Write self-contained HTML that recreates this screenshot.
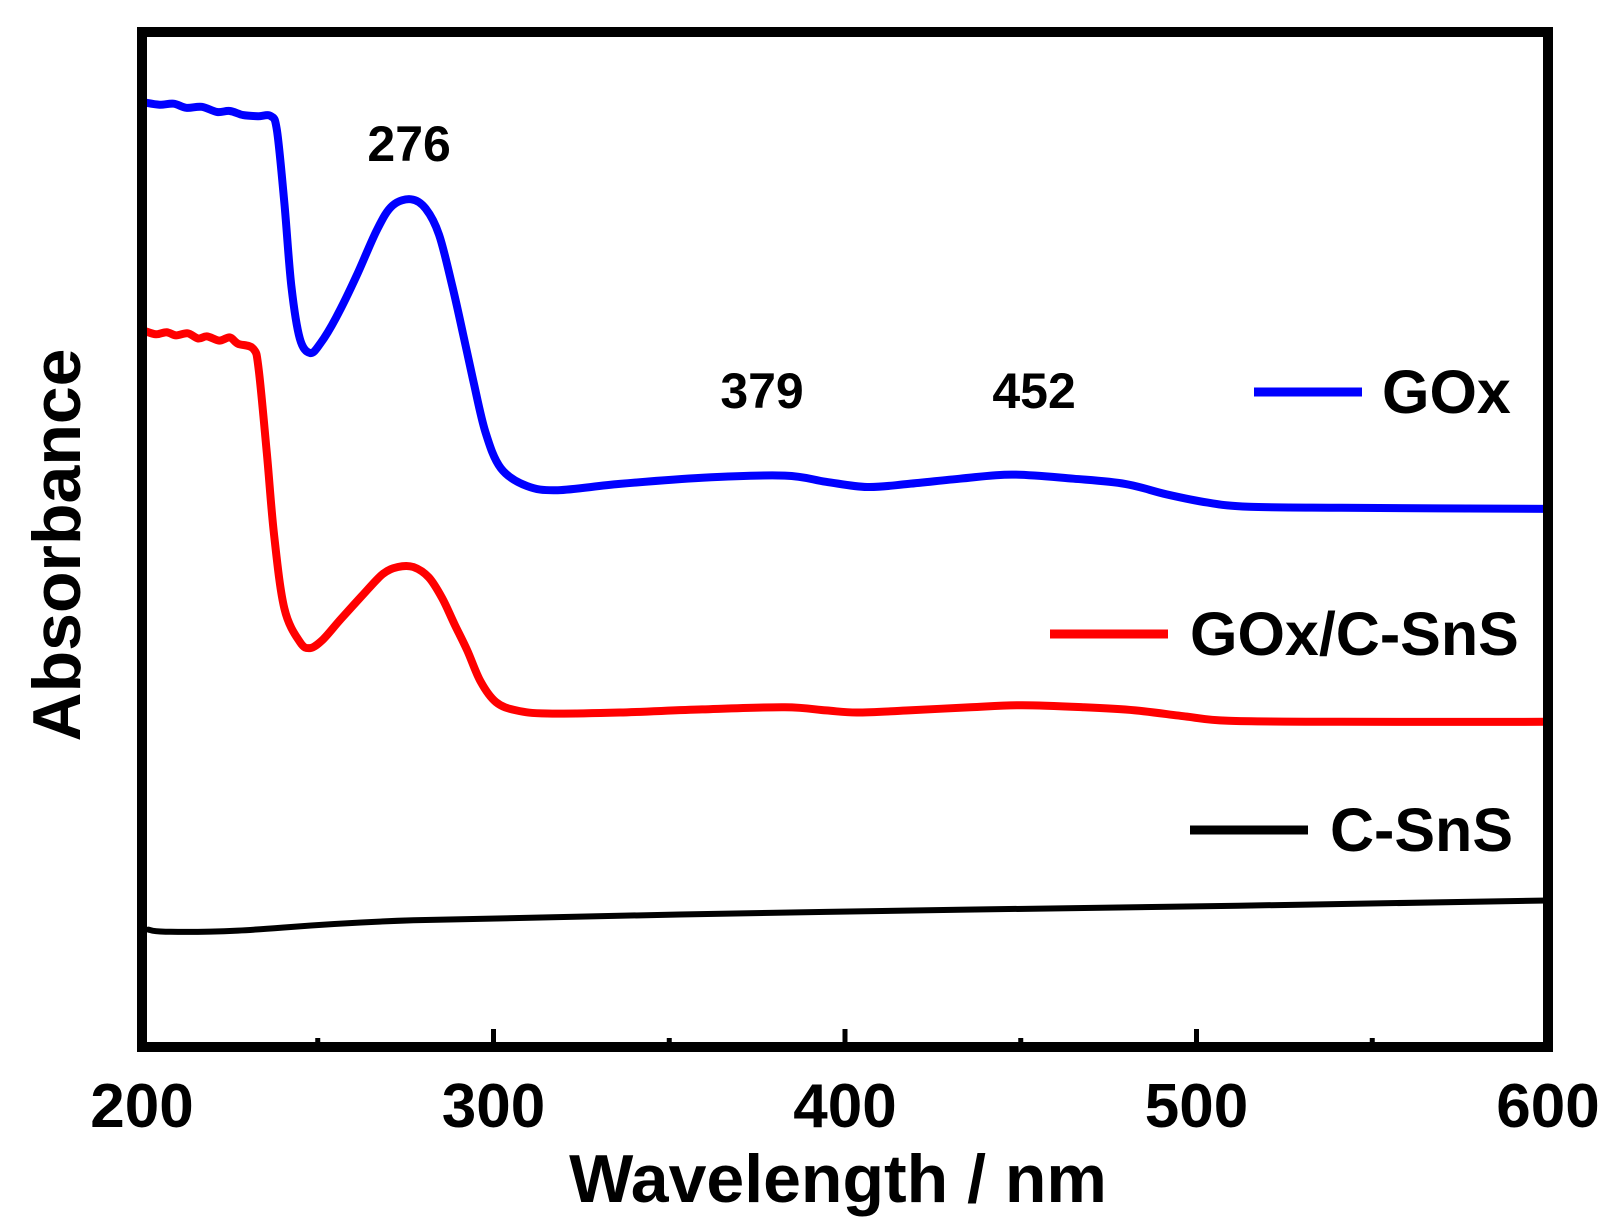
<!DOCTYPE html>
<html><head><meta charset="utf-8"><style>
html,body{margin:0;padding:0;background:#fff;}
svg{display:block;font-family:"Liberation Sans",Arial,sans-serif;font-weight:bold;}
</style></head><body>
<svg id="chart" width="1618" height="1230" viewBox="0 0 1618 1230">
<g id="plot"></g>
<g id="axes"></g>
</svg>
<script>
const xTicks=[200,300,400,500,600];
const xMinor=[250,350,450,550];
const goxNm=[200.9,205,209,212.6,217,221.4,225,228.8,233,236.7,238.4,240.5,242.5,244.9,247.8,250.7,255.2,261.0,266.9,271.3,276.6,280.7,284.5,288.3,291.3,294.2,297.7,302.1,309.5,318.3,335.9,359.4,382.9,394.6,406.3,418.1,432.7,447.4,465.0,479.7,491.4,503.2,514.9,541.3,600];
const goxA=[9.09,9.07,9.08,9.04,9.05,9.0,9.01,8.97,8.96,8.96,8.82,8.12,7.32,6.82,6.68,6.77,7.02,7.42,7.87,8.10,8.16,8.07,7.82,7.32,6.87,6.42,5.92,5.57,5.40,5.36,5.42,5.48,5.50,5.44,5.39,5.42,5.47,5.51,5.47,5.42,5.32,5.24,5.20,5.19,5.18];
const mixNm=[200.9,204,207,209.7,213,216,218.5,222,225,227.3,231.7,233.2,235.5,237.6,240.5,244.9,247.8,251.4,256.6,262.5,268.4,272.8,277.2,281.6,285.4,288.9,292.5,296.3,300.7,306.5,315.3,335.9,359.4,382.9,394.6,403.4,418.1,435.7,450.4,468.0,482.6,497.3,509.1,541.3,600];
const mixA=[6.89,6.86,6.88,6.85,6.87,6.82,6.84,6.80,6.83,6.77,6.72,6.52,5.72,4.92,4.22,3.90,3.84,3.92,4.12,4.34,4.55,4.62,4.62,4.52,4.32,4.07,3.82,3.52,3.32,3.24,3.21,3.22,3.25,3.27,3.24,3.22,3.24,3.27,3.29,3.27,3.24,3.18,3.14,3.13,3.13];
const snsNm=[201.8,206.7,227.3,277.2,394.6,511.9,600];
const snsA=[1.13,1.11,1.12,1.22,1.30,1.36,1.41];
const peakLabels=[{t:"276",nm:276,a:8.53},{t:"379",nm:376.4,a:6.15},{t:"452",nm:453.8,a:6.15}];

const X0=142,X1=1548,Y0=1047,Y1=32;
function xs(v){return X0+(v-200)/400*(X1-X0);}
function ys(v){return Y0-v/9.77*(Y0-Y1);}
const NS="http://www.w3.org/2000/svg";
const plot=document.getElementById('plot'),axes=document.getElementById('axes');
function mk(tag,attrs,parent){const e=document.createElementNS(NS,tag);for(const k in attrs)e.setAttribute(k,attrs[k]);parent.appendChild(e);return e;}
function series(nm,a,color,w,name){
  const P=nm.map((v,i)=>[xs(v),ys(a[i])]);
  let d='M'+P[0][0].toFixed(1)+','+P[0][1].toFixed(1);
  for(let i=0;i<P.length-1;i++){
    const p0=P[Math.max(0,i-1)],p1=P[i],p2=P[i+1],p3=P[Math.min(P.length-1,i+2)];
    const c1=[p1[0]+(p2[0]-p0[0])/6,p1[1]+(p2[1]-p0[1])/6];
    const c2=[p2[0]-(p3[0]-p1[0])/6,p2[1]-(p3[1]-p1[1])/6];
    d+='C'+c1[0].toFixed(1)+','+c1[1].toFixed(1)+' '+c2[0].toFixed(1)+','+c2[1].toFixed(1)+' '+p2[0].toFixed(1)+','+p2[1].toFixed(1);
  }
  const p=mk('path',{d:d,fill:'none',stroke:color,'stroke-width':w,'stroke-linejoin':'round','stroke-linecap':'round'},plot);
  
  
}
series(goxNm,goxA,'#0000ff',8,'gox-line');
series(mixNm,mixA,'#ff0000',8,'gox-c-sns-line');
series(snsNm,snsA,'#000000',6,'c-sns-line');
peakLabels.forEach(p=>{
  const t=mk('text',{x:xs(p.nm),y:ys(p.a),'text-anchor':'middle','font-size':50},plot);
  t.textContent=p.t;
  
  
});
const fr=mk('rect',{x:X0,y:Y1,width:X1-X0,height:Y0-Y1,fill:'none',stroke:'#000','stroke-width':10},axes);


xTicks.forEach(v=>{
  const l=mk('line',{x1:xs(v),x2:xs(v),y1:Y0,y2:Y0-18,stroke:'#000','stroke-width':5},axes);
  
  
  const t=mk('text',{x:xs(v),y:1127,'text-anchor':'middle','font-size':62},axes);
  t.textContent=v;
  
  
});
xMinor.forEach(v=>{
  const l=mk('line',{x1:xs(v),x2:xs(v),y1:Y0,y2:Y0-9,stroke:'#000','stroke-width':5},axes);
  
  
});
</script>
<svg style="position:absolute;left:0;top:0" width="1618" height="1230">
<text x="838" y="1202" text-anchor="middle" font-size="68" font-family="Liberation Sans, Arial, sans-serif" font-weight="bold">Wavelength / nm</text>
<text transform="translate(80,545) rotate(-90)" text-anchor="middle" font-size="68" font-family="Liberation Sans, Arial, sans-serif" font-weight="bold">Absorbance</text>
<g font-family="Liberation Sans, Arial, sans-serif" font-weight="bold" font-size="61">
<g>
<line x1="1254" x2="1362" y1="392" y2="392" stroke="#0000ff" stroke-width="9"/>
<text x="1382" y="413">GOx</text></g>
<g>
<line x1="1050" x2="1168" y1="634" y2="634" stroke="#ff0000" stroke-width="9"/>
<text x="1190" y="655">GOx/C-SnS</text></g>
<g>
<line x1="1190" x2="1308" y1="830" y2="830" stroke="#000" stroke-width="9"/>
<text x="1330" y="851">C-SnS</text></g>
</g>
</svg>
</body></html>
